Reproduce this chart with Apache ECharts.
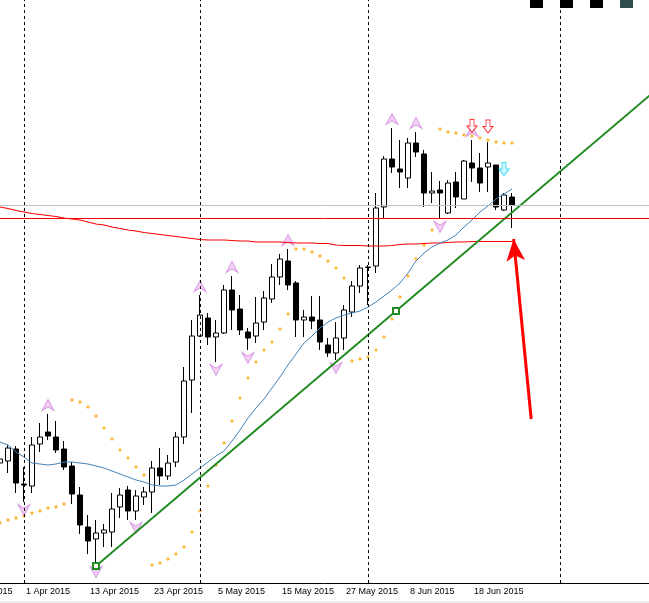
<!DOCTYPE html>
<html>
<head>
<meta charset="utf-8">
<script src="https://cdn.jsdelivr.net/npm/echarts@6/dist/echarts.min.js"></script>
<style>
  html, body { margin: 0; padding: 0; background: #fff; }
  #main { width: 649px; height: 603px; }
</style>
</head>
<body>
<div id="main"></div>
<script>
// trading days, first one (20 Mar) sits just left of the visible area
var dates = [
  '20 Mar 2015', '23 Mar 2015', '24 Mar 2015', '25 Mar 2015', '26 Mar 2015', '27 Mar 2015', '30 Mar 2015', '31 Mar 2015',
  '1 Apr 2015', '2 Apr 2015', '3 Apr 2015', '6 Apr 2015', '7 Apr 2015', '8 Apr 2015', '9 Apr 2015', '10 Apr 2015',
  '13 Apr 2015', '14 Apr 2015', '15 Apr 2015', '16 Apr 2015', '17 Apr 2015', '20 Apr 2015', '21 Apr 2015', '22 Apr 2015',
  '23 Apr 2015', '24 Apr 2015', '27 Apr 2015', '28 Apr 2015', '29 Apr 2015', '30 Apr 2015', '1 May 2015', '4 May 2015',
  '5 May 2015', '6 May 2015', '7 May 2015', '8 May 2015', '11 May 2015', '12 May 2015', '13 May 2015', '14 May 2015',
  '15 May 2015', '18 May 2015', '19 May 2015', '20 May 2015', '21 May 2015', '22 May 2015', '25 May 2015', '26 May 2015',
  '27 May 2015', '28 May 2015', '29 May 2015', '1 Jun 2015', '2 Jun 2015', '3 Jun 2015', '4 Jun 2015', '5 Jun 2015',
  '8 Jun 2015', '9 Jun 2015', '10 Jun 2015', '11 Jun 2015', '12 Jun 2015', '15 Jun 2015', '16 Jun 2015', '17 Jun 2015',
  '18 Jun 2015', '19 Jun 2015', '22 Jun 2015', '23 Jun 2015', '24 Jun 2015', '25 Jun 2015'
];
var FIRST_BAR = 5;      // index of 27 Mar, first bar with data
var FUTURE_SLOTS = 17;  // empty space right of the last bar

// [open, close, low, high] from 27 Mar to 25 Jun
var candles = [
  [113.7, 114.1, 112.1, 116.0], [113.9, 115.2, 112.7, 115.5], [115.1, 111.7, 110.7, 115.4],
  [111.6, 111.5, 109.8, 113.3], [111.4, 115.5, 110.7, 116.3], [115.6, 116.3, 114.8, 117.7],
  [116.8, 116.4, 116.0, 118.6], [116.3, 115.0, 114.7, 117.9], [115.1, 113.3, 113.0, 115.9],
  [113.4, 110.6, 109.6, 113.8], [110.5, 107.5, 106.6, 111.3], [107.3, 105.9, 104.6, 108.5],
  [106.1, 106.7, 103.6, 108.0], [106.7, 107.0, 105.3, 107.6], [106.8, 109.1, 105.3, 110.7],
  [109.3, 110.5, 108.2, 111.2], [111.0, 108.9, 108.0, 111.4], [108.9, 110.4, 108.0, 111.0],
  [110.3, 110.8, 109.5, 111.3], [110.8, 113.2, 108.7, 113.9], [113.2, 112.4, 111.5, 115.2],
  [112.4, 113.7, 112.0, 114.5], [113.8, 116.3, 113.3, 116.8], [116.3, 121.9, 115.6, 123.3],
  [122.0, 126.4, 118.7, 128.0], [126.4, 128.5, 126.3, 130.5], [128.2, 126.3, 125.5, 128.7],
  [126.3, 126.7, 123.8, 128.0], [126.7, 131.0, 126.6, 131.5], [131.0, 129.0, 127.0, 132.4],
  [129.1, 127.0, 126.5, 130.5], [126.8, 126.2, 125.0, 127.2], [126.4, 127.7, 125.7, 130.3],
  [127.8, 130.2, 127.0, 130.9], [130.1, 132.3, 129.7, 133.6], [132.3, 134.1, 131.5, 134.6],
  [133.9, 131.5, 131.0, 135.1], [131.7, 128.0, 126.3, 131.9], [128.0, 128.3, 126.3, 129.0],
  [128.3, 127.9, 127.1, 130.4], [128.0, 125.8, 125.0, 130.4], [125.5, 124.7, 124.3, 126.2],
  [124.7, 126.2, 124.0, 127.8], [126.2, 129.0, 125.0, 129.5], [128.8, 131.4, 128.3, 131.9],
  [131.4, 133.2, 130.7, 133.5], [133.25, 133.3, 129.5, 133.5], [133.4, 139.2, 132.7, 140.7],
  [139.3, 144.1, 138.2, 144.4], [144.1, 143.3, 142.7, 147.2], [143.1, 142.8, 141.2, 146.0],
  [142.2, 145.7, 141.2, 146.2], [145.7, 144.8, 144.3, 146.8], [144.6, 140.7, 139.3, 145.0],
  [140.7, 140.9, 139.7, 142.8], [141.0, 140.7, 138.1, 141.9], [138.7, 141.7, 138.6, 142.0],
  [141.8, 140.3, 139.2, 142.8], [140.1, 143.9, 140.1, 144.0], [143.7, 143.2, 141.8, 146.0],
  [143.2, 141.7, 140.8, 144.7], [143.3, 143.7, 140.8, 145.8], [143.5, 139.3, 139.0, 143.5],
  [139.0, 140.5, 138.9, 140.7], [140.3, 139.45, 137.2, 140.7]
];

var maFast = [
  115.8, 115.5, 114.8, 114.3, 113.7, 113.6, 113.5, 113.6, 113.8, 113.8, 113.7, 113.6, 113.4,
  113.2, 112.9, 112.6, 112.3, 112.0, 111.8, 111.5, 111.4, 111.4, 111.5, 112.0, 112.6, 113.2,
  113.8, 114.4, 114.9, 115.9, 117.0, 118.2, 119.2, 120.1, 121.2, 122.3, 123.5, 124.6, 125.7,
  126.4, 127.2, 127.8, 128.2, 128.5, 128.7, 128.9, 129.3, 129.8, 130.4, 131.0, 131.7, 132.7,
  133.9, 134.7, 135.3, 135.7, 136.0, 136.5, 137.3, 138.0, 138.8, 139.4, 140.1, 140.6, 141.1
];

var maSlow = [
  139.3, 139.15, 138.95, 138.8, 138.65, 138.55, 138.45, 138.35, 138.2, 138.1, 138.0, 137.8, 137.6,
  137.5, 137.3, 137.15, 137.0, 136.9, 136.75, 136.65, 136.55, 136.45, 136.35, 136.25, 136.15, 136.05,
  136.0, 136.0, 136.0, 135.95, 135.9, 135.9, 135.8, 135.8, 135.8, 135.8, 135.75, 135.7, 135.7,
  135.7, 135.65, 135.65, 135.5, 135.45, 135.45, 135.45, 135.4, 135.4, 135.4, 135.45, 135.55, 135.6,
  135.6, 135.65, 135.7, 135.7, 135.75, 135.8, 135.8, 135.85, 135.85, 135.85, 135.85, 135.85, 135.85
];

var sar = [
  107.7, 108.0, 108.2, 108.4, 108.7, 108.9, 109.2, 109.3, 109.6, 120.0, 119.8, 119.3, 118.4,
  117.2, 116.1, 115.0, 114.2, 113.3, 112.5, 103.5, 103.7, 104.1, 104.6, 105.3, 106.8, 108.9,
  111.4, 113.5, 115.7, 117.9, 120.2, 122.2, 123.8, 125.0, 125.8, 127.1, 128.6, 135.1, 135.1,
  134.8, 134.4, 133.9, 133.2, 132.2, 123.9, 124.1, 124.3, 125.0, 126.3, 128.1, 130.3, 132.4,
  134.1, 135.5, 137.0, 147.1, 146.8, 146.7, 146.5, 146.4, 146.2, 146.0, 145.8, 145.7, 145.7
];

// bar indices (into dates) with fractal marks
var fractalUp = [11, 30, 34, 41, 54, 57, 64];
var fractalDown = [8, 17, 22, 32, 36, 47, 60];
// hollow signal arrows: [bar index, price]
var signalRed = [[64, 147.4], [66, 147.35]];
var signalCyan = [[68, 143.1]];

var trendPoints = [[17, 103.4], [54.5, 128.9]];
var arrowTail = [71.4, 118.1];
var arrowHead = [69.2, 136.1];

var separators = [8, 30, 51, 75];
var bidPrice = 139.45;
var levelPrice = 138.2;

var categories = dates.slice();
for (var f = 0; f < FUTURE_SLOTS; f++) categories.push('f' + f);

function lead(arr) {
  var out = [];
  for (var i = 0; i < FIRST_BAR; i++) out.push('-');
  return out.concat(arr);
}

var sarData = sar.map(function (v, i) { return [i + FIRST_BAR, v]; });
var upData = fractalUp.map(function (i) { return [i, candles[i - FIRST_BAR][3]]; });
var downData = fractalDown.map(function (i) { return [i, candles[i - FIRST_BAR][2]]; });

// extend the trend line to the right edge
var slope = (trendPoints[1][1] - trendPoints[0][1]) / (trendPoints[1][0] - trendPoints[0][0]);
var endX = categories.length;
var trendData = [
  { value: trendPoints[0] },
  { value: trendPoints[1] },
  { value: [endX, trendPoints[0][1] + slope * (endX - trendPoints[0][0])], symbol: 'none' }
];

function showLabel(i) { return i % 8 === 0 && i < dates.length; }

var chart = echarts.init(document.getElementById('main'));

chart.setOption({
  animation: false,
  backgroundColor: '#fff',
  grid: { left: -44, right: -3, top: 0, bottom: 20, containLabel: false, outerBoundsMode: 'none' },
  xAxis: [
    {
      type: 'category',
      data: categories,
      boundaryGap: true,
      axisLine: { lineStyle: { color: '#000', width: 1 } },
      axisTick: { interval: showLabel, alignWithLabel: true, length: 5, lineStyle: { color: '#000' } },
      axisLabel: {
        interval: showLabel, align: 'left', padding: [0, 0, 0, 2], margin: 4,
        fontSize: 9, fontFamily: 'Liberation Sans', color: '#000'
      },
      splitLine: { show: false }
    },
    { type: 'value', min: -0.5, max: categories.length - 0.5, show: false }
  ],
  yAxis: { type: 'value', min: 101.7, max: 160, show: false, splitLine: { show: false } },
  graphic: [
    { type: 'rect', shape: { x: 530, y: 0, width: 13, height: 8 }, style: { fill: '#000' } },
    { type: 'rect', shape: { x: 560, y: 0, width: 13, height: 8 }, style: { fill: '#000' } },
    { type: 'rect', shape: { x: 590, y: 0, width: 13, height: 8 }, style: { fill: '#000' } },
    { type: 'rect', shape: { x: 620, y: 0, width: 13, height: 8 }, style: { fill: '#2f4f4f' } },
    { type: 'rect', shape: { x: 0, y: 601, width: 649, height: 2 }, style: { fill: '#ececec' } }
  ],
  series: [
    {
      type: 'candlestick',
      data: lead(candles),
      barWidth: 5,
      itemStyle: {
        color: '#fff', color0: '#000',
        borderColor: '#000', borderColor0: '#000', borderColorDoji: '#000', borderWidth: 1
      },
      markLine: {
        silent: true, symbol: 'none', animation: false,
        label: { show: false },
        data: separators.map(function (i) {
          return { xAxis: i, lineStyle: { color: '#000', width: 1, type: [3, 3] } };
        }).concat([
          { yAxis: bidPrice, lineStyle: { color: '#c0c0c0', width: 1, type: 'solid' } },
          { yAxis: levelPrice, lineStyle: { color: '#ff0000', width: 1, type: 'solid' } }
        ])
      }
    },
    {
      type: 'line', data: lead(maSlow), showSymbol: false,
      lineStyle: { color: '#ff0000', width: 1.2 }
    },
    {
      type: 'line', data: lead(maFast), showSymbol: false,
      lineStyle: { color: '#4682b4', width: 1 }
    },
    {
      type: 'scatter', data: sarData, symbol: 'diamond', symbolSize: 4,
      itemStyle: { color: '#ffa500' }
    },
    {
      type: 'scatter', data: upData,
      symbol: 'path://M6,0 L12,12 L6,8 L0,12 Z', symbolSize: [12, 11], symbolOffset: [0, -9],
      itemStyle: { color: '#f3c6f3', borderColor: '#d08ae0', borderWidth: 1 }
    },
    {
      type: 'scatter', data: downData,
      symbol: 'path://M0,0 L6,4 L12,0 L6,12 Z', symbolSize: [12, 11], symbolOffset: [0, 8],
      itemStyle: { color: '#f3c6f3', borderColor: '#d08ae0', borderWidth: 1 }
    },
    {
      type: 'scatter', data: signalRed,
      symbol: 'path://M3,0 L7,0 L7,6 L10,6 L5,12 L0,6 L3,6 Z', symbolSize: [10, 13],
      itemStyle: { color: '#fff', borderColor: '#ff0000', borderWidth: 1 }
    },
    {
      type: 'scatter', data: signalCyan,
      symbol: 'path://M3,0 L7,0 L7,6 L10,6 L5,12 L0,6 L3,6 Z', symbolSize: [10, 13],
      itemStyle: { color: '#c8f6ff', borderColor: '#00d8f0', borderWidth: 1 }
    },
    {
      type: 'line', xAxisIndex: 1, data: trendData,
      symbol: 'rect', symbolSize: 6, showSymbol: true,
      lineStyle: { color: '#228b22', width: 2 },
      itemStyle: { color: '#fff', borderColor: '#228b22', borderWidth: 2 },
      markLine: {
        silent: true, animation: false,
        symbol: ['none', 'arrow'], symbolSize: [14, 22],
        label: { show: false },
        lineStyle: { color: '#ff0000', width: 3, type: 'solid' },
        data: [[{ coord: arrowTail }, { coord: arrowHead }]]
      }
    }
  ]
});
</script>
</body>
</html>
